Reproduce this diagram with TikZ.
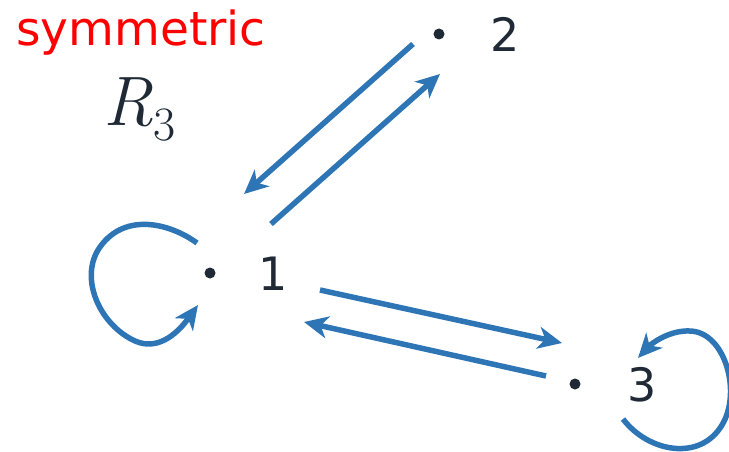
\documentclass[tikz,border=0pt]{standalone}
\usepackage{fontspec}
\setmainfont{DejaVu Sans}
\newfontfamily\lmrfont{Latin Modern Roman}
\usetikzlibrary{arrows.meta}
\definecolor{arrblue}{HTML}{2E75B6}
\definecolor{inkdark}{HTML}{1F2A36}
\begin{document}
\begin{tikzpicture}[x=1pt,y=-1pt,
  arr/.style={draw=arrblue, line width=5.5pt, -{Stealth[length=24pt,width=22pt,inset=7pt]}},
  dotnode/.style={circle, fill=inkdark, inner sep=0pt, minimum size=11pt},
  numlabel/.style={text=inkdark, font=\fontsize{46}{46}\selectfont, anchor=base, inner sep=0pt},
  titletext/.style={text=red, font=\fontsize{47}{47}\selectfont, anchor=base, inner sep=0pt}]
\useasboundingbox (0,0) rectangle (729,452);
% titles
\node[titletext] (title) at (141,46) {symmetric};
\node[text=inkdark, anchor=base west, inner sep=0pt] (rel) at (103,125)
  {{\lmrfont\itshape\fontsize{70}{70}\selectfont R}\raisebox{-15pt}{\lmrfont\fontsize{48}{48}\selectfont 3}};
% vertices
\node[dotnode] (d1) at (210,273) {};
\node[dotnode] (d2) at (439,34) {};
\node[dotnode] (d3) at (575,384) {};
\node[numlabel] (n1) at (273,290) {1};
\node[numlabel] (n2) at (505,52) {2};
\node[numlabel] (n3) at (642,401) {3};
% connector end points
\coordinate (a21s) at (413,44);
\coordinate (a21e) at (244,194);
\coordinate (a12s) at (271,224);
\coordinate (a12e) at (440,74);
\coordinate (a13s) at (320,290);
\coordinate (a13e) at (562,343);
\coordinate (a31s) at (546,376);
\coordinate (a31e) at (304,322);
\coordinate (l1s) at (197,243);
\coordinate (l1e) at (198,305);
\coordinate (l3s) at (623,419);
\coordinate (l3e) at (638,358);
% edges
\draw[arr] (a21s) -- (a21e);
\draw[arr] (a12s) -- (a12e);
\draw[arr] (a13s) -- (a13e);
\draw[arr] (a31s) -- (a31e);
% loops
\draw[arr] (l1s) .. controls (168,222) and (122,212) .. (98,250)
  .. controls (80,280) and (100,325) .. (135,341)
  .. controls (160,352) and (180,330) .. (l1e);
\draw[arr] (l3s) .. controls (648,452) and (700,462) .. (722,425)
  .. controls (742,392) and (725,332) .. (690,331)
  .. controls (668,330) and (650,345) .. (l3e);
\end{tikzpicture}
\end{document}
